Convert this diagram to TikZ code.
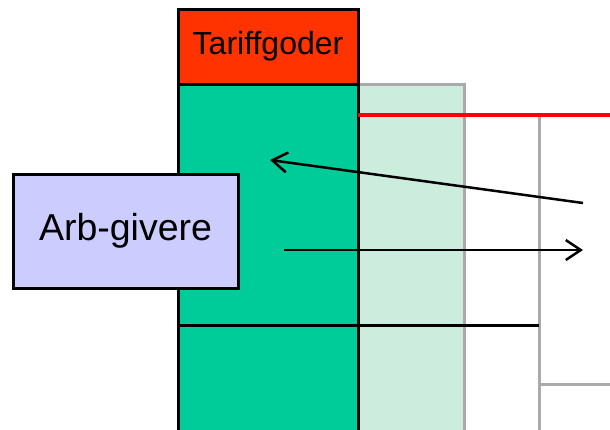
\documentclass[tikz,border=0pt]{standalone}
\usepackage{fontspec}
\setmainfont{Liberation Sans}
\usetikzlibrary{arrows.meta}
\definecolor{tariffred}{RGB}{255,51,0}
\definecolor{goodsgreen}{RGB}{0,204,153}
\definecolor{palegreen}{RGB}{204,236,222}
\definecolor{edgegray}{RGB}{170,170,170}
\definecolor{lavender}{RGB}{204,204,255}

\begin{document}
\begin{tikzpicture}[x = 1pt, y = -1pt, line width = 3pt,
                        box/.style = {rectangle, draw, inner sep = 0pt, outer sep = 0pt},
                        grey/.style = {box, draw = edgegray},
                        flow/.style = {line width = 2.5pt, -{Straight Barb[length = 15pt, width = 20pt, line width = 2.5pt]}}]
      \clip (0, 0) rectangle (610, 429);
      \node [grey, fill = palegreen, minimum width = 106pt, minimum height = 356pt] (pale) at (411, 262){};
      \node [grey, fill = white, minimum width = 75pt, minimum height = 325pt] (rest) at (501.5, 277.5){};
      \node [grey, fill = white, minimum width = 90pt, minimum height = 269pt] (upper) at (584, 249.5){};
      \node [grey, fill = white, minimum width = 90pt, minimum height = 56pt] (lower) at (584, 412){};
      \node [box, fill = goodsgreen, minimum width = 180pt, minimum height = 356pt] (goods) at (268, 262){};
      \node [box, fill = tariffred, minimum width = 180pt, minimum height = 75pt,
             font = \fontsize{32}{38}\selectfont] (tariff) at (268, 46.5){Tariffgoder};
      \coordinate (capL) at (goods.east |- rest.north);
      \coordinate (capR) at (610, 115);
      \coordinate (floorL) at (goods.west |- 0, 325);
      \coordinate (floorR) at (rest.east |- 0, 325);
      \draw [red, line width = 3.5pt] (capL) -- (capR);
      \draw [line width = 3pt] (floorL) -- (floorR);
      \node [box, fill = lavender, minimum width = 225pt, minimum height = 114pt,
             font = \fontsize{37.5}{44}\selectfont] (employers) at (125.5, 231){Arb-givere};
      \coordinate (in1) at (583, 203);
      \coordinate (in2) at (270, 160);
      \coordinate (out1) at (284, 250);
      \coordinate (out2) at (583, 250);
      \draw [flow] (in1) -- (in2);
      \draw [flow] (out1) -- (out2);
    \end{tikzpicture}
\end{document}
